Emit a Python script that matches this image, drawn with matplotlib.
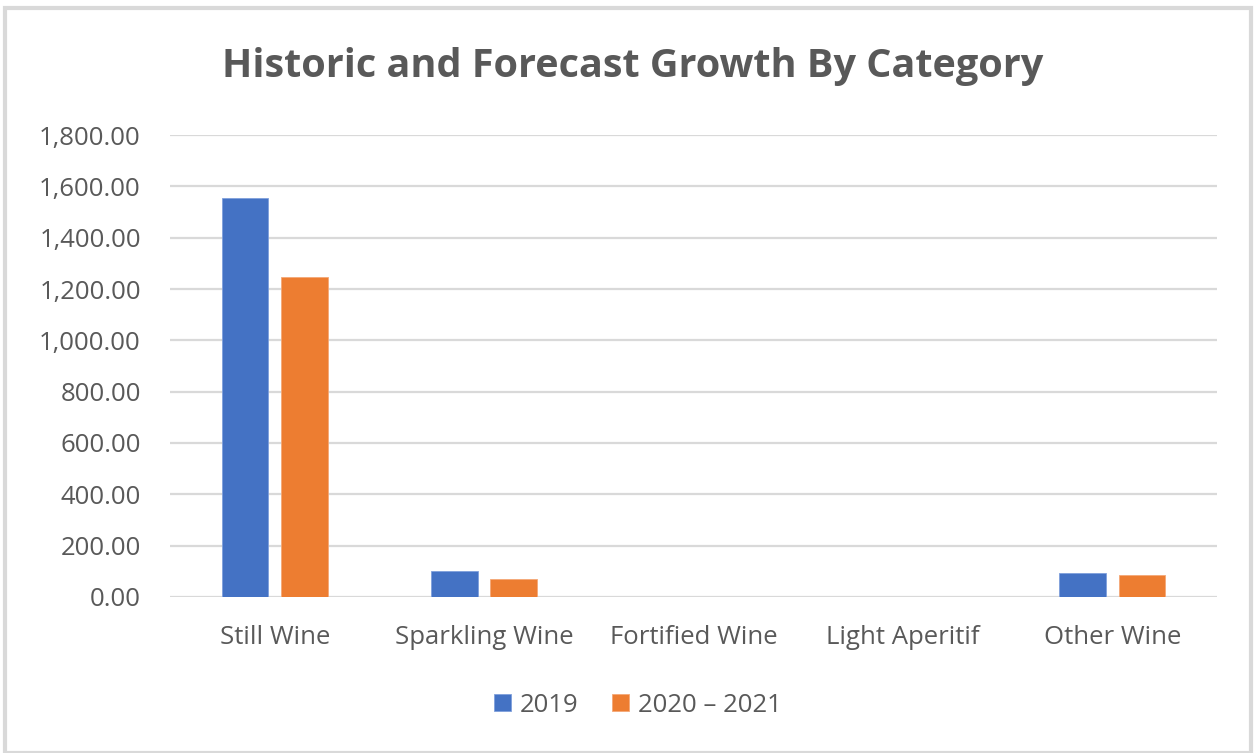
import matplotlib
matplotlib.use("Agg")
import matplotlib.pyplot as plt
import numpy as np
from matplotlib.patches import Rectangle
from matplotlib.ticker import FuncFormatter

categories = ["Still Wine", "Sparkling Wine", "Fortified Wine", "Light Aperitif", "Other Wine"]
series_names = ["2019", "2020 \u2013 2021"]
values_2019 = [1555, 102, 0, 0, 92]
values_2020_2021 = [1245, 70, 0, 0, 87]
colors = ["#4472C4", "#ED7D31"]
yticks = [0, 200, 400, 600, 800, 1000, 1200, 1400, 1600, 1800]

plt.rcParams['font.family'] = ['Open Sans', 'DejaVu Sans']
W, H = 1255, 753
fig = plt.figure(figsize=(W / 100, H / 100), dpi=100)

# outer frame
fig.patches.append(Rectangle((5 / W, 0), (W - 9) / W, (H - 8) / H, transform=fig.transFigure,
                             fill=False, edgecolor="#d9d9d9", linewidth=3, zorder=0))

ax = fig.add_axes([170 / W, 1 - 597 / H, (1217 - 170) / W, (597 - 135) / H])
x = np.arange(len(categories))
bw = 0.224
ax.bar(x - 0.142, values_2019, bw, color=colors[0], label=series_names[0], zorder=3,
       edgecolor="#7fa0dc", linewidth=0.6)
ax.bar(x + 0.142, values_2020_2021, bw, color=colors[1], label=series_names[1], zorder=3,
       edgecolor="#f4a877", linewidth=0.6)
ax.set_xlim(-0.5, len(categories) - 0.5)
ax.set_ylim(0, 1800)
ax.set_yticks(yticks)
ax.yaxis.set_major_formatter(FuncFormatter(lambda v, p: f"{v:,.2f}"))
ax.set_xticks(x)
ax.set_xticklabels(categories)
ax.grid(axis="y", color="#d9d9d9", linewidth=1.6, zorder=0)
for s in ax.spines.values():
    s.set_visible(False)
ax.tick_params(axis="both", length=0, labelsize=18.5, colors="#595959", labelcolor="#595959")
ax.tick_params(axis="y", pad=21)
ax.tick_params(axis="x", pad=20)

fig.text(633 / W, 1 - 67 / H, "Historic and Forecast Growth By Category", ha="center", va="center",
         fontsize=28.5, fontweight="bold", color="#595959")

leg = fig.legend(loc="center", bbox_to_anchor=(638 / W, 1 - 705 / H), ncol=2, frameon=False,
                 fontsize=18.5, handlelength=0.65, handleheight=0.65, columnspacing=1.3,
                 handletextpad=0.35)
for t in leg.get_texts():
    t.set_color("#595959")

fig.savefig("out.png", dpi=100, facecolor="white")
